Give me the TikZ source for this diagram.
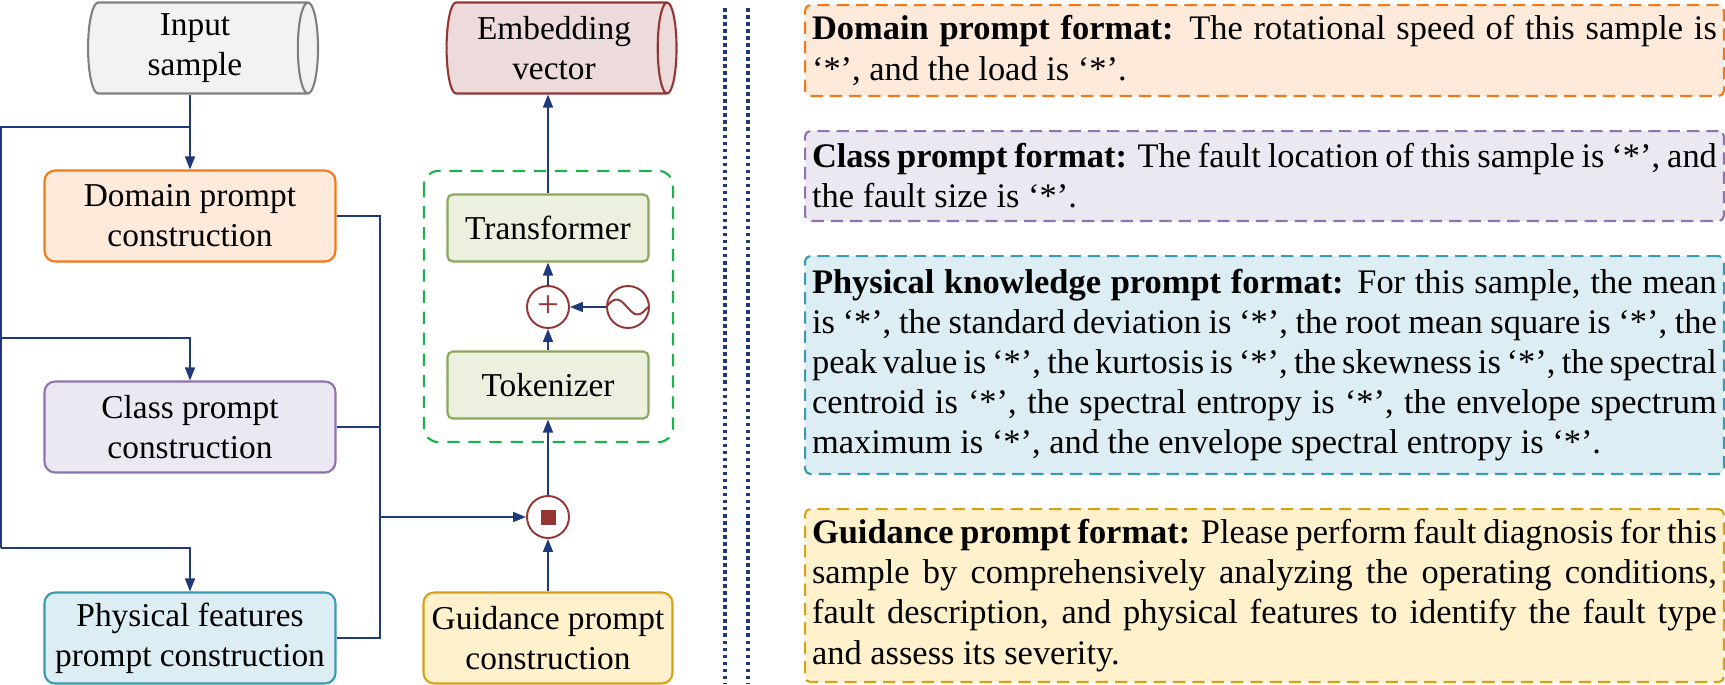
\documentclass[tikz,border=0pt]{standalone}
\usepackage{fontspec}
\setmainfont{Liberation Serif}
\usetikzlibrary{shapes.geometric,arrows.meta,positioning,calc}
\definecolor{navy}{HTML}{1F3A78}
\definecolor{dred}{HTML}{943634}
\definecolor{orgline}{HTML}{F07A1A}
\definecolor{orgfill}{HTML}{FDEADB}
\definecolor{violine}{HTML}{8F73AE}
\definecolor{viofill}{HTML}{ECE8F2}
\definecolor{cyaline}{HTML}{3A9AB0}
\definecolor{cyafill}{HTML}{DCEEF4}
\definecolor{yelline}{HTML}{D4A21A}
\definecolor{yelfill}{HTML}{FEF1CC}
\definecolor{olvline}{HTML}{8AA85A}
\definecolor{olvfill}{HTML}{EBF1DE}
\definecolor{grnline}{HTML}{1DB04E}
\tikzset{
  box/.style={draw, rounded corners=6pt, line width=1.2pt, minimum height=1.82cm, align=center, font=\fontsize{19}{22.8}\selectfont},
  cyl/.style={cylinder, shape border rotate=0, aspect=0.25, draw, line width=1.2pt, minimum width=1.82cm, minimum height=4.6cm, align=center, cylinder uses custom fill, font=\fontsize{19}{22.8}\selectfont},
  gbox/.style={draw=olvline, fill=olvfill, line width=1.2pt, rounded corners=3pt, minimum width=4.02cm, minimum height=1.34cm, font=\fontsize{19}{22.8}\selectfont},
  op/.style={circle, draw=dred, fill=white, line width=1.1pt, minimum size=0.84cm, inner sep=0pt},
  fmt/.style={draw, dashed, dash pattern=on 7pt off 4pt, line width=1.2pt, rounded corners=3pt, anchor=north west, text width=18.1cm, inner xsep=0.14cm, align=justify, font=\fontsize{19.6}{22.8}\selectfont},
  arr/.style={navy, line width=0.9pt, -{Triangle[length=0.26cm,width=0.2cm]}},
  ln/.style={navy, line width=0.9pt}
}
\begin{document}
\begin{tikzpicture}[x=0.02cm, y=-0.02cm]
		\useasboundingbox (0,0) rectangle (1725,684);
		
		% left column
		\node[cyl, draw=gray, cylinder body fill=gray!10, cylinder end fill=gray!10] (input) at (195,48) {Input\\sample};
		\node[box, draw=orgline, fill=orgfill, minimum width=5.82cm] (dom) at (190,216) {Domain prompt\\construction};
		\node[box, draw=violine, fill=viofill, minimum width=5.82cm] (cls) at (190,427) {Class prompt\\construction};
		\node[box, draw=cyaline, fill=cyafill, minimum width=5.82cm] (phy) at (190,638) {Physical features\\prompt construction};
		\node[box, draw=yelline, fill=yelfill, minimum width=4.98cm] (gui) at (548,638) {Guidance prompt\\construction};
		
		% encoder
		\draw[grnline, line width=1.2pt, dashed, dash pattern=on 7pt off 5pt, rounded corners=8pt] (424,171) rectangle (673,442);
		\node[gbox] (tok) at (548,385) {Tokenizer};
		\node[gbox] (trf) at (548,228) {Transformer};
		\node[op] (plus) at (548,307) {\color{dred}\fontsize{22}{22}\selectfont +};
		\node[op] (pos) at (628,307) {};
		\draw[dred, line width=1.1pt] (pos.west) sin ++(0.21cm,0.15cm) cos ++(0.21cm,-0.15cm) sin ++(0.21cm,-0.15cm) cos ++(0.21cm,0.15cm);
		\node[op] (cat) at (548,517) {\color{dred}\rule{0.3cm}{0.3cm}};
		\node[cyl, draw=dred, cylinder body fill=dred!18, cylinder end fill=dred!18] (emb) at (554,48) {Embedding\\vector};
		
		% connectors
		\coordinate (s) at (190,127);
		\coordinate (bus) at (380,517);
		\draw[arr] (dom.north |- input.south) -- (dom.north);
		\draw[ln] (s) -| (1,548);
		\draw[arr] (1,338) -| (cls.north);
		\draw[arr] (1,548) -| (phy.north);
		\draw[ln] (dom.east) -| (bus |- phy.east) -- (phy.east);
		\draw[ln] (cls.east) -- (bus |- cls.east);
		\draw[arr] (bus) -- (cat.west);
		\draw[arr] (gui.north) -- (cat.south);
		\draw[arr] (cat.north) -- (tok.south);
		\draw[arr] (tok.north) -- (plus.south);
		\draw[arr] (pos.west) -- (plus.east);
		\draw[arr] (plus.north) -- (trf.south);
		\draw[arr] (trf.north) -- (trf.north |- emb.south);
		
		% separator
		\draw[navy, line width=2pt, dotted] (725,8) -- (725,684);
		\draw[navy, line width=2pt, dotted] (748,8) -- (748,684);
		
		% prompt formats
		\node[fmt, draw=orgline, fill=orgfill, minimum height=1.82cm] (fdom) at (804,4) {\textbf{Domain prompt format:} The rotational speed of this sample is `*', and the load is `*'.};
		\node[fmt, draw=violine, fill=viofill, minimum height=1.8cm] (fcls) at (804,130) {\textbf{Class prompt format:} The fault location of this sample is `*', and the fault size is `*'.};
		\node[fmt, draw=cyaline, fill=cyafill, minimum height=4.36cm] (fphy) at (804,255) {\textbf{Physical knowledge prompt format:} For this sample, the mean is `*', the standard deviation is `*', the root mean square is `*', the peak value is `*', the kurtosis is `*', the skewness is `*', the spectral centroid is `*', the spectral entropy is `*', the envelope spectrum maximum is `*', and the envelope spectral entropy is `*'.};
		\node[fmt, draw=yelline, fill=yelfill, minimum height=3.46cm] (fgui) at (804,508) {\textbf{Guidance prompt format:} Please perform fault diagnosis for this sample by comprehensively analyzing the operating conditions, fault description, and physical features to identify the fault type and assess its severity.};
	\end{tikzpicture}
\end{document}
